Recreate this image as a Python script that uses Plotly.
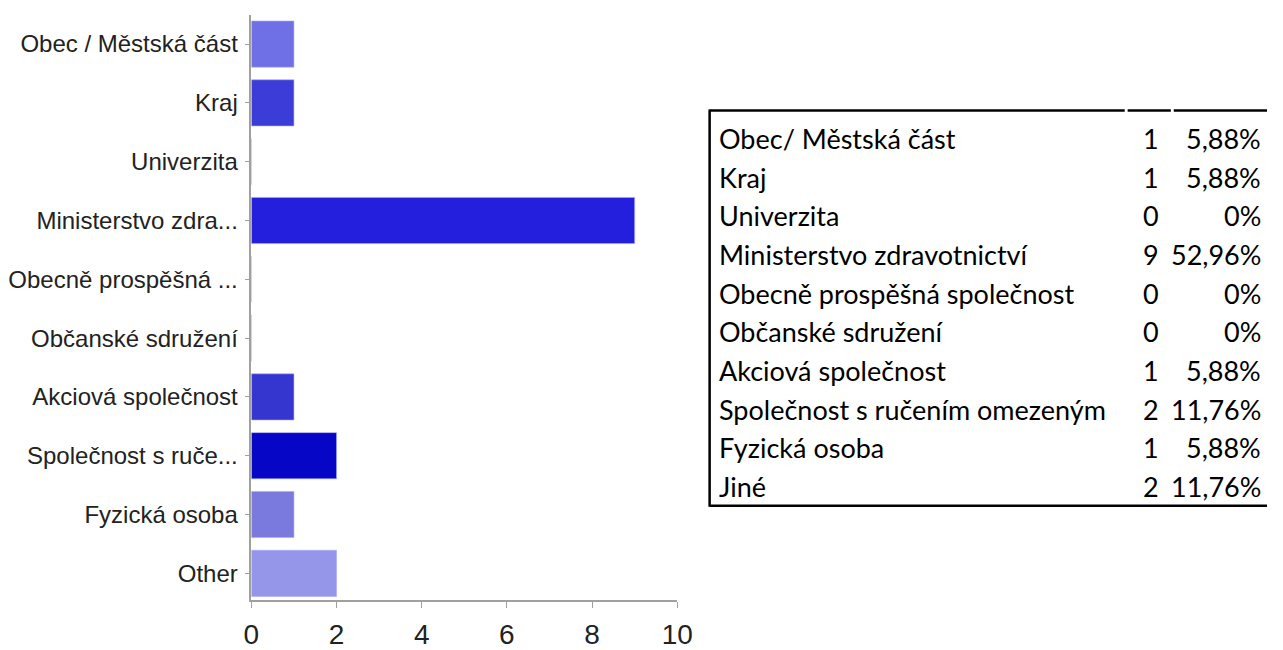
import plotly.graph_objects as go

W, H = 1283, 650

# ---- chart data ----
categories = ["Obec / Městská část", "Kraj", "Univerzita", "Ministerstvo zdra...",
              "Obecně prospěšná ...", "Občanské sdružení", "Akciová společnost",
              "Společnost s ruče...", "Fyzická osoba", "Other"]
counts = [1, 1, 0, 9, 0, 0, 1, 2, 1, 2]
bar_colors = ["#6f6fe6", "#3c3cd8", "#8080e0", "#231fdd", "#8080e0", "#8080e0",
              "#3535cf", "#0606c6", "#7a7ade", "#9595ea"]
x_ticks = [0, 2, 4, 6, 8, 10]

# ---- table data ----
table_names = ["Obec/ Městská část", "Kraj", "Univerzita", "Ministerstvo zdravotnictví",
               "Obecně prospěšná společnost", "Občanské sdružení", "Akciová společnost",
               "Společnost s ručením omezeným", "Fyzická osoba", "Jiné"]
table_counts = ["1", "1", "0", "9", "0", "0", "1", "2", "1", "2"]
table_pcts = ["5,88%", "5,88%", "0%", "52,96%", "0%", "0%", "5,88%", "11,76%", "5,88%", "11,76%"]


def px(x):
    return x / W


def py(y):
    return 1 - y / H


fig = go.Figure()
fig.add_trace(go.Bar(
    x=counts, y=categories, orientation="h",
    marker=dict(color=bar_colors, line=dict(width=1, color="rgba(170,170,255,0.6)")),
    hoverinfo="x+y",
))

axis_gray = "#a0a0a0"
fig.update_layout(
    width=W, height=H,
    margin=dict(l=0, r=0, t=0, b=0),
    paper_bgcolor="white", plot_bgcolor="white",
    showlegend=False,
    bargap=0.215,
    font=dict(family="Liberation Sans, Arial, sans-serif", color="#222222"),
    xaxis=dict(
        domain=[px(248), px(682)], range=[0, 10],
        tickvals=x_ticks, ticks="outside", ticklen=6, tickcolor=axis_gray,
        showline=True, linecolor=axis_gray, linewidth=1.5,
        showgrid=False, zeroline=False,
        tickfont=dict(size=28, color="#222222"),
        ticklabelstandoff=3,
        anchor="y",
    ),
    yaxis=dict(
        domain=[py(613), py(15)],
        range=[9.45, -0.5],
        type="category",
        ticks="outside", ticklen=5, tickcolor=axis_gray,
        showline=True, linecolor=axis_gray, linewidth=1.5,
        showgrid=False, zeroline=False,
        tickfont=dict(size=24, color="#222222"),
        ticklabelstandoff=2,
    ),
)

# ---- table drawn with shapes + annotations ----
line_w = 2.5
top_y, bot_y = 113, 517
left_x, right_x = 715, 1283
shapes = [
    dict(type="line", xref="paper", yref="paper", x0=px(left_x), x1=px(1138),
         y0=py(top_y), y1=py(top_y), line=dict(color="black", width=line_w)),
    dict(type="line", xref="paper", yref="paper", x0=px(1141), x1=px(1185),
         y0=py(top_y), y1=py(top_y), line=dict(color="black", width=line_w)),
    dict(type="line", xref="paper", yref="paper", x0=px(1188), x1=px(right_x),
         y0=py(top_y), y1=py(top_y), line=dict(color="black", width=line_w)),
    dict(type="line", xref="paper", yref="paper", x0=px(left_x), x1=px(right_x),
         y0=py(bot_y), y1=py(bot_y), line=dict(color="black", width=line_w)),
    dict(type="line", xref="paper", yref="paper", x0=px(left_x), x1=px(left_x),
         y0=py(top_y - 1), y1=py(bot_y + 1), line=dict(color="black", width=line_w)),
]

annotations = []
row0, row_h = 141.7, 39.5
tfont = dict(family="Lato, Carlito, sans-serif", size=27, color="black")
for i, (name, cnt, pct) in enumerate(zip(table_names, table_counts, table_pcts)):
    yc = py(row0 + i * row_h)
    annotations.append(dict(xref="paper", yref="paper", x=px(723), y=yc, text=name,
                            xanchor="left", yanchor="middle", showarrow=False, font=tfont))
    annotations.append(dict(xref="paper", yref="paper", x=px(1175), y=yc, text=cnt,
                            xanchor="right", yanchor="middle", showarrow=False, font=tfont))
    annotations.append(dict(xref="paper", yref="paper", x=px(1279), y=yc, text=pct,
                            xanchor="right", yanchor="middle", showarrow=False, font=tfont))

fig.update_layout(shapes=shapes, annotations=annotations)

fig.write_html("out.html")
